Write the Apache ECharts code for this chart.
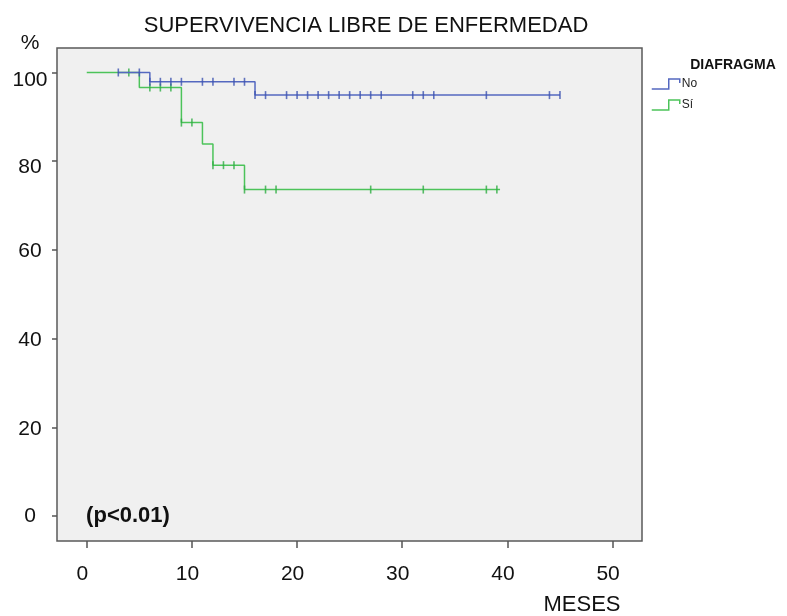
<!DOCTYPE html>
<html>
<head>
<meta charset="utf-8">
<script src="https://cdn.jsdelivr.net/npm/echarts@6/dist/echarts.min.js"></script>
<style>
html,body{margin:0;padding:0;background:#fff;}
#chart{width:787px;height:616px;}
</style>
</head>
<body>
<div id="chart"></div>
<script>
// ---- data ----
const xTicks = [0, 10, 20, 30, 40, 50];
const yTicks = [0, 20, 40, 60, 80, 100];

// Kaplan-Meier steps: time (months) and survival (%) after that time
const noStepT = [3, 6, 16, 45];
const noStepS = [100, 97.9, 94.9, 94.9];
const noCensorT = [3, 5, 6, 7, 8, 9, 11, 12, 14, 15, 16, 17, 19, 20, 21, 22, 23, 24, 25, 26, 27, 28, 31, 32, 33, 38, 44, 45];

const siStepT = [0, 5, 9, 11, 12, 15, 39.3];
const siStepS = [100, 96.6, 88.7, 83.9, 79.1, 73.6, 73.6];
const siCensorT = [4, 6, 7, 8, 9, 10, 12, 13, 14, 15, 17, 18, 27, 32, 38, 39];

const seriesNames = ['No', 'Sí'];
const titleText = 'SUPERVIVENCIA LIBRE DE ENFERMEDAD';
const legendTitle = 'DIAFRAGMA';
const xName = 'MESES';
const yName = '%';
const pText = '(p<0.01)';

// ---- helpers ----
function stepData(T, S) { return T.map((t, i) => [t, S[i]]); }
function survAt(t, T, S) {
  let v = S[0];
  for (let i = 0; i < T.length; i++) { if (T[i] <= t) v = S[i]; }
  return v;
}
function censorData(C, T, S) { return C.map(t => [t, survAt(t, T, S)]); }

const FONT = 'Liberation Sans, Arial, Helvetica, sans-serif';
const BLUE = '#5468c0', BLUE_D = '#3c52b0';
const GREEN = '#4cc35a', GREEN_D = '#2eae42';
const stepIcon = 'path://M0,10L17,10L17,0L28,0L28,4';

const chart = echarts.init(document.getElementById('chart'));
chart.setOption({
  animation: false,
  backgroundColor: '#ffffff',
  textStyle: { fontFamily: FONT },
  title: {
    text: titleText,
    left: 366, top: 15, textAlign: 'center', padding: 0,
    textStyle: { fontFamily: FONT, fontSize: 22, fontWeight: 'normal', color: '#111' }
  },
  legend: {
    orient: 'vertical',
    left: 651, top: 78, padding: 0,
    itemWidth: 28, itemHeight: 10, itemGap: 9,
    icon: stepIcon,
    textStyle: { fontFamily: FONT, fontSize: 12, color: '#222', padding: [0, 0, 0, -3] },
    data: [
      { name: seriesNames[0], itemStyle: { color: 'transparent', borderColor: BLUE, borderWidth: 1.5 } },
      { name: seriesNames[1], itemStyle: { color: 'transparent', borderColor: GREEN, borderWidth: 1.5 } }
    ]
  },
  grid: {
    left: 57, right: 145, top: 48, bottom: 75,
    show: true, backgroundColor: '#f0f0f0', borderColor: '#5a5a5a', borderWidth: 1.5,
    containLabel: false
  },
  xAxis: {
    type: 'value', min: -2.83, max: 52.8,
    splitLine: { show: false },
    axisLine: { show: false, onZero: false },
    axisTick: { show: true, customValues: xTicks, length: 7, lineStyle: { color: '#555', width: 1.5 } },
    axisLabel: { customValues: xTicks, fontFamily: FONT, fontSize: 21, color: '#111', margin: 23, padding: [0, 9, 0, 0] }
  },
  yAxis: {
    type: 'value', min: -5.64, max: 105.52,
    splitLine: { show: false },
    axisLine: { show: false, onZero: false },
    axisTick: { show: true, customValues: yTicks, length: 5, lineStyle: { color: '#555', width: 1.5 } },
    axisLabel: {
      customValues: yTicks, fontFamily: FONT, fontSize: 21, color: '#111', margin: 27, align: 'center', verticalAlign: 'middle',
      formatter: function (v) {
        if (v >= 100) return '{a|' + v + '}';
        if (v >= 80) return '{b|' + v + '}';
        if (v > 0) return '{c|' + v + '}';
        return '{d|' + v + '}';
      },
      rich: {
        a: { fontFamily: FONT, fontSize: 21, color: '#111', padding: [16, 0, 0, 0] },
        b: { fontFamily: FONT, fontSize: 21, color: '#111', padding: [13, 0, 0, 0] },
        c: { fontFamily: FONT, fontSize: 21, color: '#111', padding: [3, 0, 0, 0] },
        d: { fontFamily: FONT, fontSize: 21, color: '#111', padding: [0, 0, 0, 0] }
      }
    }
  },
  graphic: [
    { type: 'text', x: 30, y: 43, style: { text: yName, font: '21px ' + FONT, fill: '#111', align: 'center', verticalAlign: 'middle' } },
    { type: 'text', x: 582, y: 605, style: { text: xName, font: '22px ' + FONT, fill: '#111', align: 'center', verticalAlign: 'middle' } },
    { type: 'text', x: 128, y: 516, z: 10, style: { text: pText, font: 'bold 22px ' + FONT, fill: '#111', align: 'center', verticalAlign: 'middle' } },
    { type: 'text', x: 733, y: 65, style: { text: legendTitle, font: 'bold 14px ' + FONT, fill: '#111', align: 'center', verticalAlign: 'middle' } }
  ],
  series: [
    {
      name: seriesNames[1], type: 'line', step: 'end', showSymbol: false, z: 2,
      data: stepData(siStepT, siStepS),
      lineStyle: { color: GREEN, width: 1.5 },
      itemStyle: { color: GREEN }
    },
    {
      name: seriesNames[1], type: 'scatter', symbol: 'rect', symbolSize: [1.6, 8], z: 3,
      data: censorData(siCensorT, siStepT, siStepS),
      itemStyle: { color: GREEN_D }
    },
    {
      name: seriesNames[0], type: 'line', step: 'end', showSymbol: false, z: 4,
      data: stepData(noStepT, noStepS),
      lineStyle: { color: BLUE, width: 1.5 },
      itemStyle: { color: BLUE }
    },
    {
      name: seriesNames[0], type: 'scatter', symbol: 'rect', symbolSize: [1.6, 8], z: 5,
      data: censorData(noCensorT, noStepT, noStepS),
      itemStyle: { color: BLUE_D }
    }
  ]
});
</script>
</body>
</html>
